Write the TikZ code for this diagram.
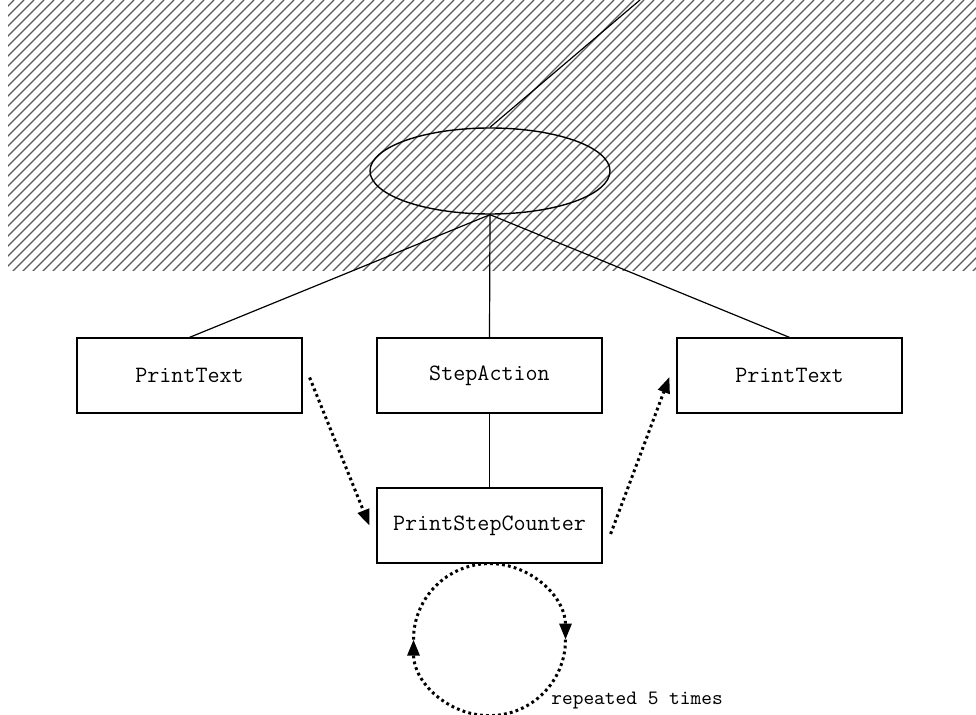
\documentclass[tikz,border=0pt]{standalone}
\usepackage{fontspec}
\usetikzlibrary{arrows.meta,calc,shapes.geometric}
\begin{document}
\begin{tikzpicture}[x=0.5pt,y=-0.5pt,
  hatchline/.style={draw=black!65,line width=0.6pt},
  box/.style={draw,line width=0.6pt,rectangle,minimum width=112.5pt,minimum height=37.5pt,inner sep=0pt,font=\ttfamily\fontsize{11.7}{13}\selectfont},
  bubble/.style={draw,line width=0.7pt,ellipse,minimum width=120pt,minimum height=43pt,inner sep=0pt},
  link/.style={draw,line width=0.6pt},
  dotarrow/.style={draw,line width=1.5pt,line cap=butt,dash pattern=on 1.4pt off 1.6pt,
    -{Triangle[length=8pt,width=6pt]}},
  note/.style={font=\ttfamily\fontsize{10.2}{12}\selectfont,inner sep=0pt,anchor=west}]
\useasboundingbox (0,0) rectangle (976,715);

% hatched band across the top
\begin{scope}
  \clip (8,0) rectangle (976,271);
  \foreach \c in {4,14,...,1260} {
    \draw[hatchline] (\c,0) -- (\c-290,290);
  }
\end{scope}

% nodes
\node[bubble] (ell) at (490,171) {};
\node[box] (pl) at (189.5,375.5) {PrintText};
\node[box] (sa) at (489.5,375.5) {StepAction};
\node[box] (pr) at (789.5,375.5) {PrintText};
\node[box] (psc) at (489.5,525.5) {PrintStepCounter};
\coordinate (up) at (640,0);

% solid connectors
\draw[link] (ell.north) -- (up);
\draw[link] (ell.south) -- (pl.north);
\draw[link] (ell.south) -- (sa.north);
\draw[link] (ell.south) -- (pr.north);
\draw[link] (sa.south) -- (psc.north);

% dotted flow arrows
\draw[dotarrow] ([xshift=3.5pt,yshift=-1pt]pl.east) -- ([xshift=-3.5pt]psc.west);
\draw[dotarrow] ([xshift=4pt,yshift=-4.25pt]psc.east) -- ([xshift=-3.5pt,yshift=-0.75pt]pr.west);

% repeat loop below the counter
\coordinate (loop) at ($(psc.south)+(0,76)$);
\draw[dotarrow] ($(loop)+(-76,0)$) arc[start angle=180,end angle=0,radius=38pt];
\draw[dotarrow] ($(loop)+(76,0)$) arc[start angle=0,end angle=-180,radius=38pt];
\node[note] (rep) at (551,701) {repeated 5 times};
\end{tikzpicture}
\end{document}
